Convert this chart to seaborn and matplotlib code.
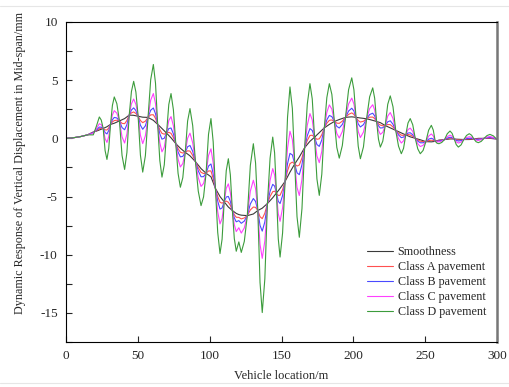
import matplotlib
matplotlib.use("Agg")
import matplotlib.pyplot as plt
import seaborn as sns
import pandas as pd
from matplotlib.lines import Line2D
from matplotlib.ticker import MultipleLocator

# vehicle position along the bridge (m); one row per oscillation:
# shoulder, extremum, shoulder, crossing of the smooth curve
location = [0, 5, 10, 15, 19, 21.3,
            23.2, 24.55, 25.9,
            27.2, 28.5, 29.75, 31.0,
            32.3, 33.6, 35.4, 37.2,
            39.0, 40.8, 42.4, 44.0,
            45.55, 47.1, 48.65, 50.2,
            51.8, 53.4, 55.25, 57.1,
            58.95, 60.8, 62.3, 63.8,
            65.3, 66.8, 68.4, 70.0,
            71.55, 73.1, 74.75, 76.4,
            78.0, 79.6, 81.3, 83.0,
            84.65, 86.3, 88.2, 90.1,
            92.05, 94.0, 95.75, 97.5,
            99.2, 100.9, 102.45, 104.0,
            105.6, 107.2, 108.65, 110.1,
            111.55, 113.0, 114.4, 115.8,
            117.15, 118.5, 120.3, 122.0, 124.1, 126.2,
            128.3, 130.4, 131.95, 133.5,
            135.05, 136.6, 138.4, 140.2,
            142.05, 143.9, 145.2, 146.5,
            147.75, 149.0, 150.75, 152.5,
            154.2, 155.9, 157.55, 159.2,
            160.8, 162.4, 164.25, 166.1,
            167.95, 169.8, 171.4, 173.0,
            174.65, 176.3, 178.05, 179.8,
            181.55, 183.3, 185.05, 186.8,
            188.5, 190.2, 192.35, 194.5,
            196.7, 198.9, 200.4, 201.9,
            203.4, 204.9, 207.05, 209.2,
            211.35, 213.5, 214.85, 216.2,
            217.5, 218.8, 220.5, 222.2,
            223.95, 225.7, 227.6, 229.5,
            231.45, 233.4, 234.95, 236.5,
            238.05, 239.6, 241.35, 243.1,
            244.85, 246.6, 248.55, 250.5,
            252.4, 254.3, 255.65, 257.0,
            258.3, 259.6, 261.55, 263.5,
            265.4, 267.3, 268.75, 270.2,
            271.65, 273.1, 275.0, 276.9,
            278.8, 280.7, 282.3, 283.9,
            285.45, 287.0, 289.0, 291.0,
            293.05, 295.1, 297.5, 300]

smooth = [0, 0.05, 0.15, 0.3, 0.55, 0.63,
          0.72, 0.785, 0.85,
          0.925, 1.0, 1.1, 1.2,
          1.25, 1.3, 1.4, 1.5,
          1.6, 1.7, 1.85, 2.0,
          1.99, 1.98, 1.94, 1.9,
          1.86, 1.82, 1.81, 1.8,
          1.68, 1.55, 1.38, 1.2,
          1.03, 0.85, 0.65, 0.45,
          0.25, 0.05, -0.2, -0.45,
          -0.65, -0.85, -1.03, -1.2,
          -1.35, -1.5, -1.75, -2.0,
          -2.3, -2.6, -2.8, -3.0,
          -3.15, -3.3, -3.8, -4.3,
          -4.65, -5.0, -5.23, -5.45,
          -5.68, -5.9, -6.05, -6.2,
          -6.33, -6.45, -6.55, -6.6, -6.62, -6.64,
          -6.57, -6.5, -6.35, -6.2,
          -6.1, -6.0, -5.8, -5.6,
          -5.35, -5.1, -4.9, -4.7,
          -4.5, -4.3, -4.0, -3.7,
          -3.3, -2.9, -2.55, -2.2,
          -1.9, -1.6, -1.2, -0.8,
          -0.53, -0.25, -0.08, 0.1,
          0.3, 0.5, 0.7, 0.9,
          1.05, 1.2, 1.33, 1.45,
          1.54, 1.62, 1.71, 1.8,
          1.83, 1.85, 1.83, 1.8,
          1.78, 1.75, 1.72, 1.68,
          1.62, 1.55, 1.5, 1.45,
          1.4, 1.35, 1.23, 1.1,
          1.0, 0.9, 0.79, 0.68,
          0.57, 0.45, 0.38, 0.3,
          0.22, 0.13, 0.07, 0.0,
          -0.06, -0.12, -0.2, -0.28,
          -0.29, -0.3, -0.28, -0.25,
          -0.2, -0.15, -0.13, -0.1,
          -0.08, -0.05, -0.05, -0.05,
          -0.07, -0.08, -0.09, -0.1,
          -0.1, -0.1, -0.08, -0.05,
          -0.03, 0.0, 0.0, 0.0,
          0.0, 0.0, -0.03, -0.05]

class_a = [0, 0.05, 0.15, 0.3, 0.53, 0.68,
           0.83, 0.87, 0.85,
           0.73, 0.72, 0.90, 1.2,
           1.41, 1.53, 1.56, 1.5,
           1.29, 1.26, 1.54, 2.0,
           2.19, 2.27, 2.14, 1.9,
           1.53, 1.35, 1.48, 1.8,
           2.02, 2.03, 1.72, 1.2,
           0.74, 0.43, 0.36, 0.45,
           0.52, 0.43, 0.07, -0.45,
           -0.88, -1.19, -1.26, -1.2,
           -1.07, -1.09, -1.47, -2.0,
           -2.52, -2.92, -3.02, -3.0,
           -2.80, -2.80, -3.45, -4.3,
           -4.99, -5.49, -5.57, -5.45,
           -5.39, -5.49, -5.76, -6.2,
           -6.56, -6.78, -6.79, -6.92, -6.84, -6.64,
           -6.15, -5.90, -5.93, -6.2,
           -6.73, -6.90, -6.43, -5.6,
           -4.99, -4.58, -4.54, -4.7,
           -4.91, -4.89, -4.41, -3.7,
           -2.79, -2.17, -2.04, -2.2,
           -2.38, -2.29, -1.68, -0.8,
           -0.18, 0.25, 0.27, 0.1,
           -0.08, -0.04, 0.32, 0.9,
           1.30, 1.55, 1.58, 1.45,
           1.31, 1.29, 1.48, 1.8,
           2.06, 2.19, 2.06, 1.8,
           1.53, 1.40, 1.47, 1.68,
           1.82, 1.83, 1.70, 1.45,
           1.25, 1.14, 1.08, 1.1,
           1.19, 1.18, 0.98, 0.68,
           0.45, 0.27, 0.26, 0.3,
           0.33, 0.29, 0.18, 0.0,
           -0.14, -0.24, -0.28, -0.28,
           -0.19, -0.16, -0.18, -0.25,
           -0.22, -0.18, -0.15, -0.1,
           -0.03, 0.02, 0.0, -0.05,
           -0.12, -0.15, -0.14, -0.1,
           -0.06, -0.05, -0.04, -0.05,
           -0.06, -0.04, -0.03, 0.0,
           0.02, 0.03, -0.01, -0.05]

class_b = [0, 0.05, 0.15, 0.3, 0.50, 0.73,
           0.97, 0.96, 0.85,
           0.50, 0.38, 0.67, 1.2,
           1.60, 1.80, 1.75, 1.5,
           0.93, 0.74, 1.18, 2.0,
           2.44, 2.62, 2.39, 1.9,
           1.13, 0.78, 1.08, 1.8,
           2.42, 2.61, 2.12, 1.2,
           0.39, -0.07, 0.01, 0.45,
           0.84, 0.89, 0.39, -0.45,
           -1.17, -1.59, -1.55, -1.2,
           -0.72, -0.61, -1.12, -2.0,
           -2.79, -3.30, -3.29, -3.0,
           -2.38, -2.20, -3.03, -4.3,
           -5.40, -6.08, -5.98, -5.45,
           -5.04, -4.99, -5.41, -6.2,
           -6.83, -7.17, -7.07, -7.30, -7.11, -6.64,
           -5.64, -5.17, -5.42, -6.2,
           -7.48, -7.97, -7.18, -5.6,
           -4.55, -3.95, -4.10, -4.7,
           -5.41, -5.60, -4.91, -3.7,
           -2.17, -1.29, -1.42, -2.2,
           -2.96, -3.12, -2.26, -0.8,
           0.23, 0.84, 0.68, 0.1,
           -0.53, -0.69, -0.13, 0.9,
           1.59, 1.97, 1.87, 1.45,
           1.03, 0.89, 1.20, 1.8,
           2.35, 2.59, 2.35, 1.8,
           1.24, 0.98, 1.18, 1.68,
           2.05, 2.16, 1.93, 1.45,
           1.08, 0.89, 0.91, 1.1,
           1.42, 1.51, 1.21, 0.68,
           0.30, 0.06, 0.11, 0.3,
           0.46, 0.48, 0.31, 0.0,
           -0.24, -0.38, -0.38, -0.28,
           -0.07, 0.01, -0.06, -0.25,
           -0.25, -0.22, -0.18, -0.1,
           0.02, 0.10, 0.05, -0.05,
           -0.17, -0.23, -0.19, -0.1,
           -0.02, 0.01, 0.0, -0.05,
           -0.09, -0.08, -0.06, 0.0,
           0.05, 0.07, 0.02, -0.06]

class_c = [0, 0.05, 0.15, 0.3, 0.43, 0.86,
           1.26, 1.17, 0.85,
           -0.02, -0.35, 0.16, 1.2,
           2.01, 2.38, 2.16, 1.5,
           0.13, -0.40, 0.38, 2.0,
           2.97, 3.38, 2.92, 1.9,
           0.27, -0.45, 0.22, 1.8,
           3.29, 3.85, 2.99, 1.2,
           -0.37, -1.16, -0.75, 0.45,
           1.53, 1.87, 1.08, -0.45,
           -1.78, -2.46, -2.16, -1.2,
           0.01, 0.45, -0.39, -2.0,
           -3.37, -4.13, -3.87, -3.0,
           -1.47, -0.9, -2.12, -4.3,
           -6.30, -7.35, -6.88, -5.45,
           -4.29, -3.91, -4.66, -6.2,
           -7.42, -8.01, -7.68, -8.14, -7.70, -6.64,
           -4.54, -3.60, -4.32, -6.2,
           -9.11, -10.31, -8.81, -5.6,
           -3.60, -2.60, -3.15, -4.7,
           -6.48, -7.13, -5.98, -3.7,
           -0.84, 0.61, -0.09, -2.2,
           -4.22, -4.91, -3.52, -0.8,
           1.13, 2.13, 1.58, 0.1,
           -1.51, -2.09, -1.11, 0.9,
           2.23, 2.88, 2.51, 1.45,
           0.42, 0.03, 0.59, 1.8,
           2.96, 3.46, 2.96, 1.8,
           0.60, 0.07, 0.54, 1.68,
           2.56, 2.89, 2.44, 1.45,
           0.69, 0.34, 0.52, 1.1,
           1.92, 2.22, 1.71, 0.68,
           -0.02, -0.40, -0.21, 0.3,
           0.75, 0.88, 0.60, 0.0,
           -0.46, -0.70, -0.60, -0.28,
           0.19, 0.38, 0.20, -0.25,
           -0.30, -0.30, -0.23, -0.1,
           0.15, 0.28, 0.18, -0.05,
           -0.30, -0.40, -0.32, -0.1,
           0.07, 0.14, 0.09, -0.05,
           -0.15, -0.18, -0.12, 0.0,
           0.11, 0.16, 0.08, -0.07]

class_d = [0, 0.05, 0.15, 0.3, 0.3, 1.1,
           1.84, 1.57, 0.85,
           -1.04, -1.81, -0.87, 1.2,
           2.83, 3.56, 2.98, 1.5,
           -1.46, -2.67, -1.21, 2.0,
           4.03, 4.9, 3.98, 1.9,
           -1.44, -2.9, -1.49, 1.8,
           5.04, 6.35, 4.74, 1.2,
           -1.90, -3.33, -2.28, 0.45,
           2.91, 3.85, 2.46, -0.45,
           -3.0, -4.2, -3.38, -1.2,
           1.49, 2.56, 1.09, -2.0,
           -4.53, -5.78, -5.03, -3.0,
           0.35, 1.7, -0.30, -4.3,
           -8.08, -9.9, -8.66, -5.45,
           -2.77, -1.75, -3.14, -6.2,
           -8.61, -9.7, -8.9, -9.8, -8.86, -6.64,
           -2.34, -0.46, -2.12, -6.2,
           -12.38, -14.97, -12.08, -5.6,
           -1.70, 0.11, -1.25, -4.7,
           -8.63, -10.2, -8.13, -3.7,
           1.82, 4.42, 2.57, -2.2,
           -6.73, -8.5, -6.03, -0.8,
           2.94, 4.7, 3.39, 0.1,
           -3.48, -4.9, -3.08, 0.9,
           3.50, 4.7, 3.78, 1.45,
           -0.78, -1.7, -0.61, 1.8,
           4.18, 5.2, 4.18, 1.8,
           -0.67, -1.75, -0.73, 1.68,
           3.57, 4.34, 3.45, 1.45,
           -0.07, -0.75, -0.24, 1.1,
           2.93, 3.65, 2.72, 0.68,
           -0.67, -1.32, -0.86, 0.3,
           1.32, 1.7, 1.17, 0.0,
           -0.90, -1.32, -1.04, -0.28,
           0.70, 1.12, 0.71, -0.25,
           -0.42, -0.46, -0.35, -0.1,
           0.40, 0.63, 0.43, -0.05,
           -0.54, -0.75, -0.56, -0.1,
           0.25, 0.4, 0.27, -0.05,
           -0.29, -0.37, -0.26, 0.0,
           0.24, 0.34, 0.21, -0.1]

labels = ["Smoothness", "Class A pavement", "Class B pavement",
          "Class C pavement", "Class D pavement"]
colors = ["#3a3a3a", "#ff5050", "#4a4aff", "#ff40ff", "#3c9c3c"]

df = pd.DataFrame({"x": location, labels[0]: smooth, labels[1]: class_a,
                   labels[2]: class_b, labels[3]: class_c, labels[4]: class_d})
long_df = df.melt(id_vars="x", var_name="series", value_name="y")

sns.set_style("ticks")
plt.rcParams["font.family"] = ["Liberation Serif", "DejaVu Serif"]
plt.rcParams["axes.unicode_minus"] = False

fig = plt.figure(figsize=(5.1, 3.87), dpi=100)
ax = fig.add_axes([66 / 510, 1 - 342 / 387, 431 / 510, 320 / 387])

sns.lineplot(data=long_df, x="x", y="y", hue="series", hue_order=labels,
             palette=colors, estimator=None, sort=False, linewidth=0.8, ax=ax)

ax.set_xlim(0, 300)
ax.set_ylim(-17.5, 10)
ax.xaxis.set_major_locator(MultipleLocator(50))
ax.yaxis.set_major_locator(MultipleLocator(5))
ax.yaxis.set_minor_locator(MultipleLocator(2.5))
ax.tick_params(axis="both", direction="in", labelsize=9.5, width=0.8)
ax.tick_params(axis="x", length=4, pad=6)
ax.tick_params(axis="y", which="major", length=4, pad=6)
ax.tick_params(axis="y", which="minor", direction="in", length=4, width=0.8)
ax.set_xlabel("Vehicle location/m", fontsize=9)
ax.set_ylabel("Dynamic Response of Vertical Displacement in Mid-span/mm",
              fontsize=8.7)
ax.xaxis.set_label_coords(0.5, -0.088)
ax.yaxis.set_label_coords(-0.093, 0.56)

for side in ["left", "bottom", "top"]:
    ax.spines[side].set_color("black")
    ax.spines[side].set_linewidth(0.8)
ax.spines["right"].set_color("#777777")
ax.spines["right"].set_linewidth(1.8)
ax.spines["top"].set_visible(True)
ax.spines["right"].set_visible(True)

leg = ax.legend(loc="upper left", bbox_to_anchor=(0.688, 0.315), frameon=False,
                fontsize=8.7, handlelength=2.1, handletextpad=0.4,
                labelspacing=0.25, borderaxespad=0, borderpad=0.4)
for line in leg.get_lines():
    line.set_linewidth(0.8)

# faint page rules above and below the figure
fig.add_artist(Line2D([0.0, 1.0], [1 - 6 / 387, 1 - 6 / 387], color="#e6e6e6", linewidth=0.8))
fig.add_artist(Line2D([0.0, 1.0], [1 - 383 / 387, 1 - 383 / 387], color="#e6e6e6", linewidth=0.8))

fig.savefig("out.png", dpi=100)
